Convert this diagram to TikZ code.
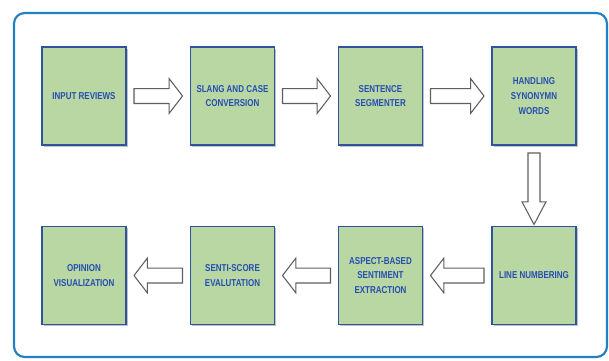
\documentclass[tikz,border=0pt]{standalone}
\usepackage{fontspec}
\newfontfamily\boxfont[FakeStretch=0.8]{Liberation Sans}
\usetikzlibrary{calc}
\usetikzlibrary{shadows}
\definecolor{boxgreen}{RGB}{184,215,163}
\definecolor{boxblue}{RGB}{46,84,158}
\definecolor{txtblue}{RGB}{38,78,178}
\definecolor{frameblue}{RGB}{35,128,195}
\definecolor{arrgray}{RGB}{95,95,95}

\begin{document}
\begin{tikzpicture}[x=0.75pt,y=-0.75pt,
	stage/.style={draw=boxblue, line width=1.2pt, fill=boxgreen,
		minimum width=63pt, minimum height=73.5pt, inner sep=2pt, outer sep=6pt,
		align=center, text=txtblue, font=\boxfont\bfseries\fontsize{7.5}{11}\selectfont,
		drop shadow={shadow xshift=1.2pt, shadow yshift=-1.2pt, opacity=0.35, fill=black!70}},
	fat/.style n args={3}{draw=arrgray, fill=white, line width=0.8pt, line join=miter,
		to path={
		($(\tikztostart)!#1!90:(\tikztotarget)$)
		-- ($(\tikztotarget)!#3!(\tikztostart)!#1!-90:(\tikztostart)$)
		-- ($(\tikztotarget)!#3!(\tikztostart)!#2!-90:(\tikztostart)$)
		-- (\tikztotarget)
		-- ($(\tikztotarget)!#3!(\tikztostart)!#2!90:(\tikztostart)$)
		-- ($(\tikztotarget)!#3!(\tikztostart)!#1!90:(\tikztostart)$)
		-- ($(\tikztostart)!#1!-90:(\tikztotarget)$) -- cycle}},
	hfat/.style={fat={5.6pt}{13pt}{10pt}},
	vfat/.style={fat={4.5pt}{9pt}{17pt}}]
	
	\useasboundingbox (0,0) rectangle (609,360);
	\draw[frameblue, line width=1.6pt, rounded corners=8pt] (14,13) rectangle (607,357);
	
	% first row
	\node[stage] (inrev) at (84,96) {INPUT REVIEWS};
	\node[stage] (slang) at (232.5,96) {SLANG AND CASE\\CONVERSION};
	\node[stage] (segm) at (380.5,96) {SENTENCE\\SEGMENTER};
	\node[stage] (synon) at (534,96) {HANDLING\\SYNONYMN\\WORDS};
	
	% second row
	\node[stage] (opin) at (84,275.5) {OPINION\\VISUALIZATION};
	\node[stage] (senti) at (232.5,275.5) {SENTI-SCORE\\EVALUTATION};
	\node[stage] (aspect) at (380.5,275.5) {ASPECT-BASED\\SENTIMENT\\EXTRACTION};
	\node[stage] (linenum) at (534,275.5) {LINE NUMBERING};
	
	\draw[hfat] (inrev.east) to (slang.west);
	\draw[hfat] (slang.east) to (segm.west);
	\draw[hfat] (segm.east) to (synon.west);
	\draw[vfat] (synon.south) to ([yshift=-4.5pt]linenum.north);
	\draw[hfat] (linenum.west) to (aspect.east);
	\draw[hfat] (aspect.west) to (senti.east);
	\draw[hfat] (senti.west) to (opin.east);
\end{tikzpicture}
\end{document}
